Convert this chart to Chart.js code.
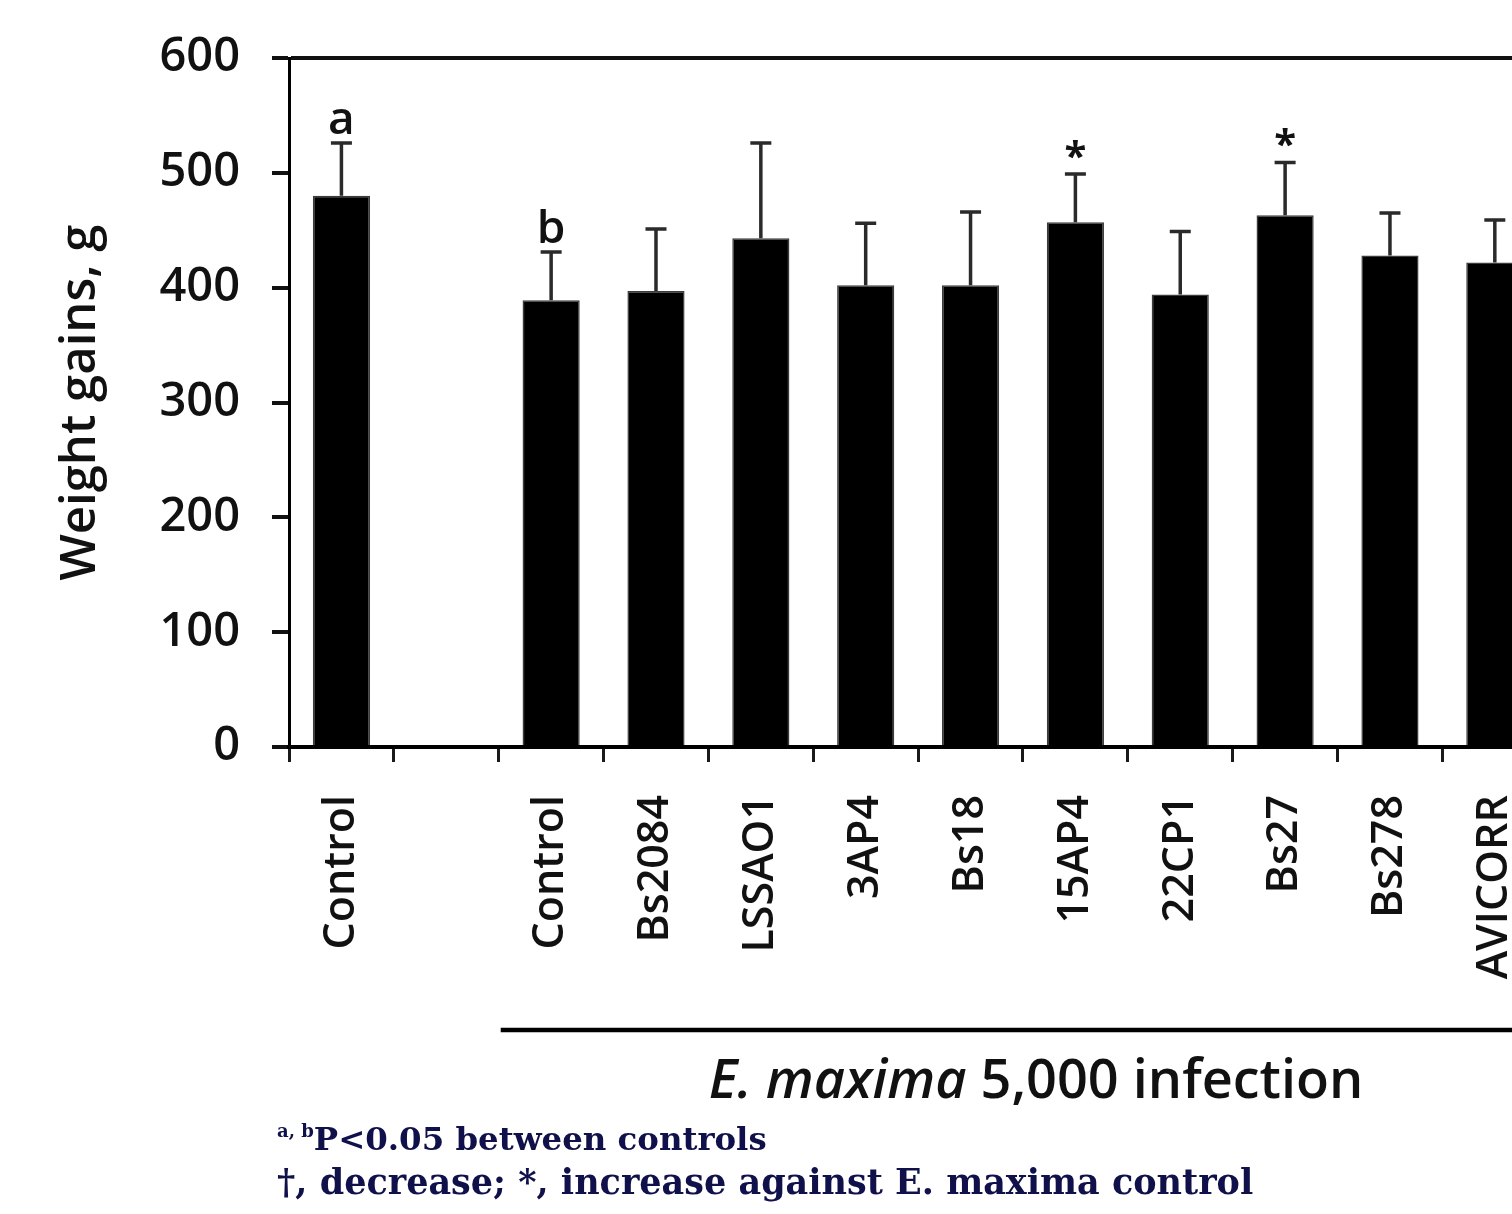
<!DOCTYPE html>
<html>
<head>
<meta charset="utf-8">
<script src="https://cdn.jsdelivr.net/npm/chart.js@4.4.0/dist/chart.umd.min.js"></script>
<style>
html,body{margin:0;padding:0;background:#fff;width:1512px;height:1214px;overflow:hidden;}
#wrap{position:absolute;left:0;top:0;width:1580px;height:1214px;}
.note{position:absolute;left:277px;font-family:'DejaVu Serif',serif;font-weight:bold;color:#10104a;white-space:nowrap;}
.note sup{font-size:18px;vertical-align:top;position:relative;top:0px;}
</style>
</head>
<body>
<div id="wrap"><canvas id="c" width="1580" height="1214"></canvas></div>
<div class="note" style="top:1120px;font-size:32.4px;"><sup>a, b</sup>P&lt;0.05 between controls</div>
<div class="note" style="top:1161px;font-size:35px;">†, decrease; *, increase against E. maxima control</div>
<script>
const categories = ['Control', '', 'Control', 'Bs2084', 'LSSAO1', '3AP4', 'Bs18', '15AP4', '22CP1', 'Bs27', 'Bs278', 'AVICORR'];
const weightGain = [480, null, 389, 397, 443, 402, 402, 457, 394, 463, 428, 422];
const errorSD    = [46, null, 42, 54, 83, 54, 64, 42, 55, 46, 37, 37];
const markers    = ['a', '', 'b', '', '', '', '', '*', '', '*', '', ''];
const yTicks     = [0, 100, 200, 300, 400, 500, 600];
const groupLabelItalic = 'E. maxima';
const groupLabelRest = ' 5,000 infection';
const groupStartIndex = 2;

const FONT = "'Open Sans', sans-serif";

const overlay = {
  id: 'overlay',
  afterDatasetsDraw(chart) {
    const ctx = chart.ctx;
    const x = chart.scales.x, y = chart.scales.y;
    ctx.save();
    ctx.strokeStyle = '#2a2a2a';
    ctx.lineWidth = 3.5;
    weightGain.forEach((v, i) => {
      if (v == null) return;
      const px = x.getPixelForValue(i);
      const y0 = y.getPixelForValue(v);
      const y1 = y.getPixelForValue(v + errorSD[i]);
      ctx.beginPath();
      ctx.moveTo(px, y0); ctx.lineTo(px, y1);
      ctx.moveTo(px - 10.5, y1); ctx.lineTo(px + 10.5, y1);
      ctx.stroke();
      const m = markers[i];
      if (m) {
        ctx.fillStyle = '#111';
        ctx.textAlign = 'center';
        ctx.textBaseline = 'alphabetic';
        if (m === '*') {
          ctx.font = 'bold 40px ' + FONT;
          ctx.fillText(m, px, y1 - 4);
        } else {
          ctx.font = '600 46px ' + FONT;
          ctx.fillText(m, px, y1 - 9);
        }
      }
    });
    const step = x.getPixelForValue(1) - x.getPixelForValue(0);
    const lx = x.getPixelForValue(groupStartIndex) - step / 2 + 2;
    const rx = chart.chartArea.right + 10;
    ctx.strokeStyle = '#000';
    ctx.lineWidth = 4.5;
    ctx.beginPath();
    ctx.moveTo(lx, 1030); ctx.lineTo(rx, 1030);
    ctx.stroke();
    ctx.fillStyle = '#111';
    ctx.textBaseline = 'alphabetic';
    ctx.textAlign = 'left';
    const fItal = 'italic 600 54px ' + FONT;
    const fReg = '600 54px ' + FONT;
    ctx.font = fItal; const w1 = ctx.measureText(groupLabelItalic).width;
    ctx.font = fReg; const w2 = ctx.measureText(groupLabelRest).width;
    const cx = 1036;
    const sx = cx - (w1 + w2) / 2;
    ctx.font = fItal; ctx.fillText(groupLabelItalic, sx, 1098);
    ctx.font = fReg; ctx.fillText(groupLabelRest, sx + w1, 1098);
    ctx.restore();
  }
};

new Chart(document.getElementById('c'), {
  type: 'bar',
  data: {
    labels: categories,
    datasets: [{
      data: weightGain,
      backgroundColor: '#000',
      borderColor: '#3c3c3c',
      borderWidth: 1.5,
      categoryPercentage: 1.0,
      barPercentage: 0.545
    }]
  },
  options: {
    responsive: false,
    animation: false,
    devicePixelRatio: 1,
    layout: { padding: { left: 0, top: 58, right: 14, bottom: 0 } },
    plugins: { legend: { display: false }, tooltip: { enabled: false } },
    scales: {
      x: {
        afterFit(s) { s.height = 1214 - 747; },
        grid: { display: true, drawOnChartArea: false, offset: true, tickLength: 15, tickColor: '#1a1a1a', lineWidth: 3 },
        border: { display: true, color: '#000', width: 4 },
        ticks: {
          autoSkip: false, maxRotation: 90, minRotation: 90, padding: 33,
          color: '#111', font: { family: FONT, size: 43, weight: '600' }
        }
      },
      y: {
        min: 0, max: 600,
        afterFit(s) { s.width = 289; },
        afterBuildTicks(s) { s.ticks = yTicks.map(v => ({ value: v })); },
        grid: {
          drawOnChartArea: true, tickLength: 17, lineWidth: 4,
          color: c => (c.tick && c.tick.value === 600) ? '#111' : 'rgba(0,0,0,0)',
          tickColor: '#111'
        },
        border: { display: true, color: '#000', width: 3 },
        ticks: { padding: 32, color: '#111', font: { family: FONT, size: 47, weight: '600', lineHeight: 1.0 } },
        title: {
          display: true, text: 'Weight gains, g', color: '#111',
          font: { family: FONT, size: 49, weight: '600' },
          padding: { top: 52, bottom: 0 }
        }
      }
    }
  },
  plugins: [overlay]
});
</script>
</body>
</html>
